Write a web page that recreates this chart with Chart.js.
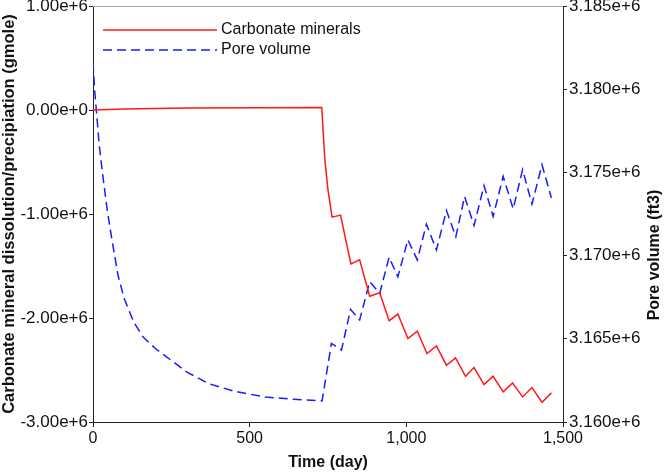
<!DOCTYPE html>
<html>
<head>
<meta charset="utf-8">
<script src="https://cdn.jsdelivr.net/npm/chart.js@4.4.1/dist/chart.umd.min.js"></script>
<style>
  html, body { margin: 0; padding: 0; background: #fff; }
  #wrap { width: 664px; height: 473px; }
</style>
</head>
<body>
<div id="wrap"><canvas id="chart" width="664" height="473"></canvas></div>
<script>
// ── data ──
const carbonateDays = [0, 100, 300, 730, 740, 750, 763, 790, 823, 851, 883, 915, 945, 973,
  1005, 1035, 1066, 1096, 1128, 1157, 1189, 1216, 1248, 1277, 1309, 1339, 1371, 1401, 1433, 1463];
const carbonateGmole = [0, 0.01e6, 0.02e6, 0.025e6, -0.48e6, -0.77e6, -1.03e6, -1.01e6, -1.48e6, -1.44e6,
  -1.79e6, -1.757e6, -2.027e6, -1.962e6, -2.197e6, -2.126e6, -2.341e6, -2.268e6, -2.454e6, -2.383e6,
  -2.56e6, -2.476e6, -2.64e6, -2.56e6, -2.71e6, -2.624e6, -2.759e6, -2.669e6, -2.81e6, -2.72e6];

const poreDays = [0, 5, 10, 20, 30, 45, 60, 80, 100, 130, 160, 200, 250, 300, 370, 450, 550, 640, 731,
  761, 793, 822, 851, 883, 915, 945, 973, 1005, 1035, 1064, 1096, 1128, 1158, 1186, 1216, 1248, 1277,
  1309, 1341, 1371, 1401, 1433, 1463];
const poreFt3 = [3181600, 3180000, 3178900, 3176600, 3175000, 3172800, 3171000, 3168800, 3167400,
  3166000, 3165100, 3164400, 3163700, 3163000, 3162300, 3161850, 3161500, 3161370, 3161270,
  3164720, 3164320, 3166770, 3166130, 3168430, 3167730, 3169900, 3168730, 3170950, 3169740,
  3171890, 3170340, 3172710, 3171140, 3173550, 3171810, 3174200, 3172350, 3174760, 3172810,
  3175160, 3173100, 3175460, 3173460];

const seriesLabels = ['Carbonate minerals', 'Pore volume'];
const xRange = [0, 1500];
const leftRange = [-3e6, 1e6];
const rightRange = [3.160e6, 3.185e6];

// ── helpers ──
const toPoints = (xs, ys) => xs.map((x, i) => ({ x, y: ys[i] }));

// legend, top frame line and right-hand title (reads bottom-to-top like the left one)
const extrasPlugin = {
  id: 'extras',
  afterDraw(chart) {
    const { ctx, chartArea } = chart;
    ctx.save();
    // grey top frame
    ctx.strokeStyle = '#a6a6a6';
    ctx.lineWidth = 1;
    ctx.beginPath();
    ctx.moveTo(chartArea.left, chartArea.top + 0.5);
    ctx.lineTo(chartArea.right, chartArea.top + 0.5);
    ctx.stroke();

    // legend
    ctx.font = '16px "Liberation Sans", Arial, sans-serif';
    ctx.textBaseline = 'middle';
    chart.data.datasets.forEach((ds, i) => {
      const y = 30 + i * 20;
      ctx.strokeStyle = ds.borderColor;
      ctx.lineWidth = ds.borderWidth;
      ctx.setLineDash(ds.borderDash || []);
      ctx.beginPath();
      ctx.moveTo(103, y);
      ctx.lineTo(217, y);
      ctx.stroke();
      ctx.setLineDash([]);
      ctx.fillStyle = '#111';
      ctx.fillText(ds.label, 221, y);
    });

    // right axis title
    ctx.translate(655, 255);
    ctx.rotate(-Math.PI / 2);
    ctx.font = 'bold 16px "Liberation Sans", Arial, sans-serif';
    ctx.textAlign = 'center';
    ctx.fillStyle = '#111';
    ctx.fillText('Pore volume (ft3)', 0, 0);
    ctx.restore();
  }
};

const tickFont = { family: '"Liberation Sans", Arial, sans-serif', size: 16 };
const titleFont = { family: '"Liberation Sans", Arial, sans-serif', size: 16, weight: 'bold' };

new Chart(document.getElementById('chart'), {
  type: 'line',
  data: {
    datasets: [
      {
        label: seriesLabels[0],
        data: toPoints(carbonateDays, carbonateGmole),
        yAxisID: 'y',
        borderColor: '#ff1a1a',
        borderWidth: 1.5,
        pointRadius: 0,
        tension: 0,
        fill: false,
      },
      {
        label: seriesLabels[1],
        data: toPoints(poreDays, poreFt3),
        yAxisID: 'y2',
        borderColor: '#1a1aff',
        borderWidth: 1.5,
        borderDash: [9, 5],
        pointRadius: 0,
        tension: 0,
        fill: false,
      },
    ],
  },
  options: {
    responsive: false,
    animation: false,
    layout: { padding: { top: 6, left: 0, right: 0, bottom: 0 } },
    plugins: { legend: { display: false }, tooltip: { enabled: false } },
    scales: {
      x: {
        type: 'linear',
        min: xRange[0],
        max: xRange[1],
        ticks: { stepSize: 500, color: '#111', font: tickFont, padding: 2, maxRotation: 0 },
        grid: { drawOnChartArea: false, tickLength: 5, color: '#222' },
        border: { color: '#222' },
        title: { display: true, text: 'Time (day)', color: '#111', font: titleFont, padding: { top: 0, bottom: 1 } },
        afterFit: (s) => { s.height = 51; s.paddingLeft = 0; s.paddingRight = 0; },
      },
      y: {
        position: 'left',
        min: leftRange[0],
        max: leftRange[1],
        ticks: { stepSize: 1e6, color: '#111', font: { ...tickFont, size: 17 }, padding: 1,
          callback: (v) => v.toExponential(2) },
        grid: { drawOnChartArea: false, tickLength: 4, color: '#222' },
        border: { color: '#222' },
        title: { display: true, text: 'Carbonate mineral dissolution/precipiation (gmole)', color: '#111',
          font: { ...titleFont, size: 16.5 }, padding: 0 },
        afterFit: (s) => { s.width = 93; s.paddingTop = 0; s.paddingBottom = 0; },
      },
      y2: {
        position: 'right',
        min: rightRange[0],
        max: rightRange[1],
        ticks: { stepSize: 5000, color: '#111', font: { ...tickFont, size: 17 }, padding: 2,
          callback: (v) => v.toExponential(3) },
        grid: { drawOnChartArea: false, tickLength: 4, color: '#222' },
        border: { color: '#222' },
        afterFit: (s) => { s.width = 101; s.paddingTop = 0; s.paddingBottom = 0; },
      },
    },
  },
  plugins: [extrasPlugin],
});
</script>
</body>
</html>
